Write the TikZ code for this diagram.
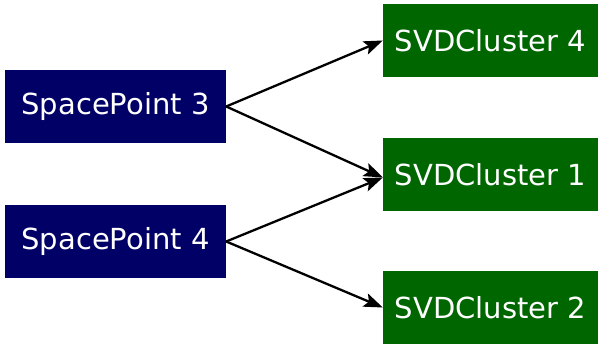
\documentclass[tikz,border=0pt]{standalone}
\usepackage{fontspec}
\setmainfont{DejaVu Sans}
\usetikzlibrary{arrows.meta}
\definecolor{spblue}{HTML}{000066}
\definecolor{svdgreen}{HTML}{006600}
\begin{document}
\begin{tikzpicture}[x=1pt,y=-1pt,
  box/.style={draw=none,text=white,minimum height=73pt,inner sep=0pt,font=\fontsize{29}{35}\selectfont},
  sp/.style={box,fill=spblue,minimum width=221pt},
  svd/.style={box,fill=svdgreen,minimum width=215pt},
  conn/.style={line width=2.3pt,-{Stealth[length=19pt,width=14pt,inset=4pt]}}]
\useasboundingbox (0,0) rectangle (599,344);
\node[sp] (sp3) at (115.5,106.5) {SpacePoint 3};
\node[sp] (sp4) at (115.5,241.5) {SpacePoint 4};
\node[svd] (c4) at (490.5,40.5) {SVDCluster 4};
\node[svd] (c1) at (490.5,174.5) {SVDCluster 1};
\node[svd,minimum height=72pt] (c2) at (490.5,307.5) {SVDCluster 2};
\coordinate (c1in) at ([yshift=-3pt]c1.west);
\draw[conn] (sp3.east) -- (c4.west);
\draw[conn] (sp3.east) -- (c1in);
\draw[conn] (sp4.east) -- (c1in);
\draw[conn] (sp4.east) -- (c2.west);
\end{tikzpicture}
\end{document}
